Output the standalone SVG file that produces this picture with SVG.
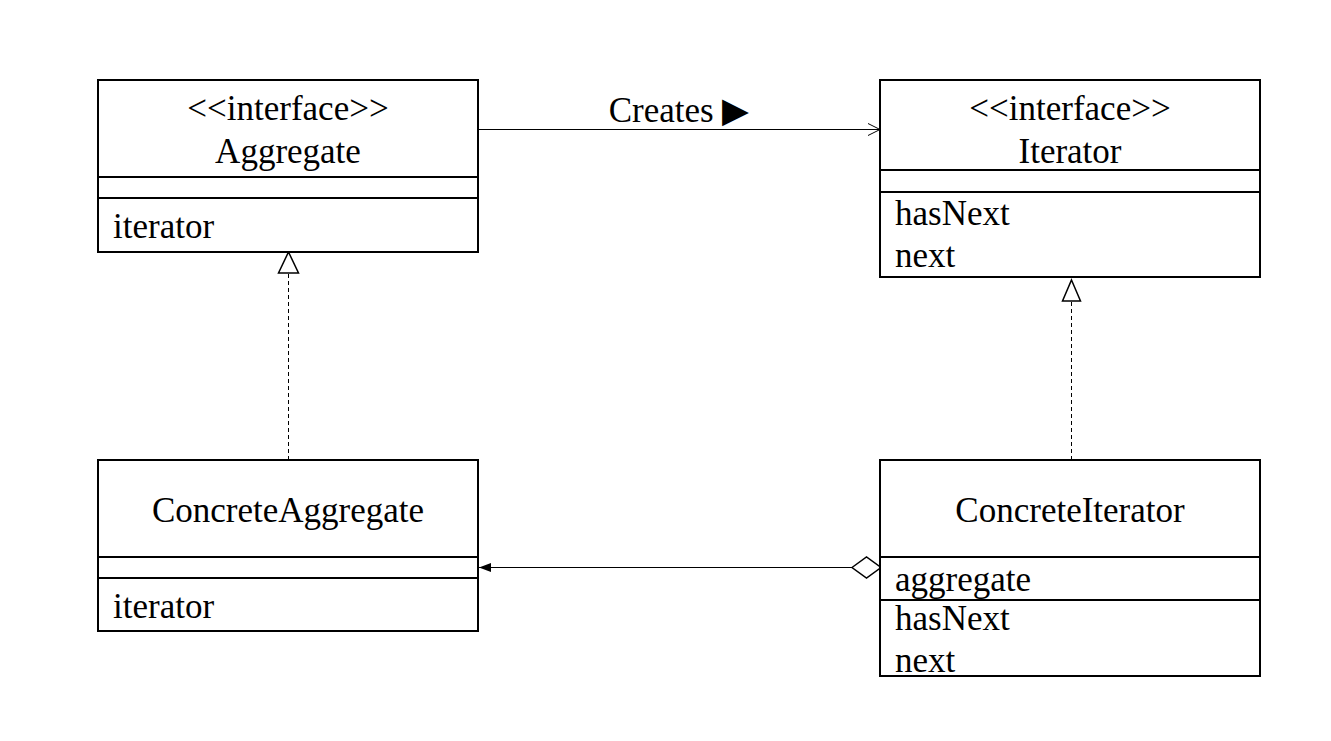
<svg xmlns="http://www.w3.org/2000/svg" width="1331" height="741" viewBox="0 0 1331 741">
<defs>
<style>
text{font-family:"Liberation Serif","Times New Roman",serif;font-size:35px;fill:#000}
.c{text-anchor:middle}
.box{fill:#fff;stroke:#000;stroke-width:2}
.div{stroke:#000;stroke-width:2}
.ln{stroke:#000;stroke-width:1;fill:none}
.dash{stroke:#000;stroke-width:1;stroke-dasharray:4 3;fill:none}
</style>
<marker id="open" markerWidth="14" markerHeight="14" refX="12" refY="7" orient="auto" markerUnits="userSpaceOnUse">
<path d="M0,1 L12,7 L0,13" fill="none" stroke="#000" stroke-width="1"/>
</marker>
<marker id="filled" markerWidth="14" markerHeight="12" refX="12" refY="5" orient="auto" markerUnits="userSpaceOnUse">
<path d="M0,0.5 L12,5 L0,9.5 Z" fill="#000"/>
</marker>
</defs>
<rect width="1331" height="741" fill="#fff"/>
<g id="connectors">
<line class="ln" x1="478" y1="129.5" x2="880" y2="129.5" marker-end="url(#open)"/>
<text class="c" x="679" y="122">Creates ▶</text>
<line class="dash" x1="288.5" y1="460" x2="288.5" y2="273"/>
<path d="M288.5,252 L298.5,273 L278.5,273 Z" fill="#fff" stroke="#000" stroke-width="1.5"/>
<line class="dash" x1="1071.5" y1="460" x2="1071.5" y2="301"/>
<path d="M1071.5,280 L1080.5,301 L1062.5,301 Z" fill="#fff" stroke="#000" stroke-width="1.5"/>
<line class="ln" x1="852" y1="567.5" x2="479" y2="567.5" marker-end="url(#filled)"/>
<path d="M852,567.5 L866.5,557 L881,567.5 L866.5,578 Z" fill="#fff" stroke="#000" stroke-width="1.5"/>
</g>
<g id="Aggregate">
<rect class="box" x="98" y="80" width="380" height="172"/>
<line class="div" x1="98" y1="177" x2="478" y2="177"/>
<line class="div" x1="98" y1="198" x2="478" y2="198"/>
<text class="c" x="288" y="120">&lt;&lt;interface&gt;&gt;</text>
<text class="c" x="288" y="163">Aggregate</text>
<text x="113" y="238">iterator</text>
</g>
<g id="Iterator">
<rect class="box" x="880" y="80" width="380" height="197"/>
<line class="div" x1="880" y1="170" x2="1260" y2="170"/>
<line class="div" x1="880" y1="192" x2="1260" y2="192"/>
<text class="c" x="1070" y="120">&lt;&lt;interface&gt;&gt;</text>
<text class="c" x="1070" y="163">Iterator</text>
<text x="895" y="225">hasNext</text>
<text x="895" y="267">next</text>
</g>
<g id="ConcreteAggregate">
<rect class="box" x="98" y="460" width="380" height="171"/>
<line class="div" x1="98" y1="557" x2="478" y2="557"/>
<line class="div" x1="98" y1="578" x2="478" y2="578"/>
<text class="c" x="288" y="522">ConcreteAggregate</text>
<text x="113" y="618">iterator</text>
</g>
<g id="ConcreteIterator">
<rect class="box" x="880" y="460" width="380" height="216"/>
<line class="div" x1="880" y1="557" x2="1260" y2="557"/>
<line class="div" x1="880" y1="600" x2="1260" y2="600"/>
<text class="c" x="1070" y="522">ConcreteIterator</text>
<text x="895" y="591">aggregate</text>
<text x="895" y="630">hasNext</text>
<text x="895" y="672">next</text>
</g>
</svg>
